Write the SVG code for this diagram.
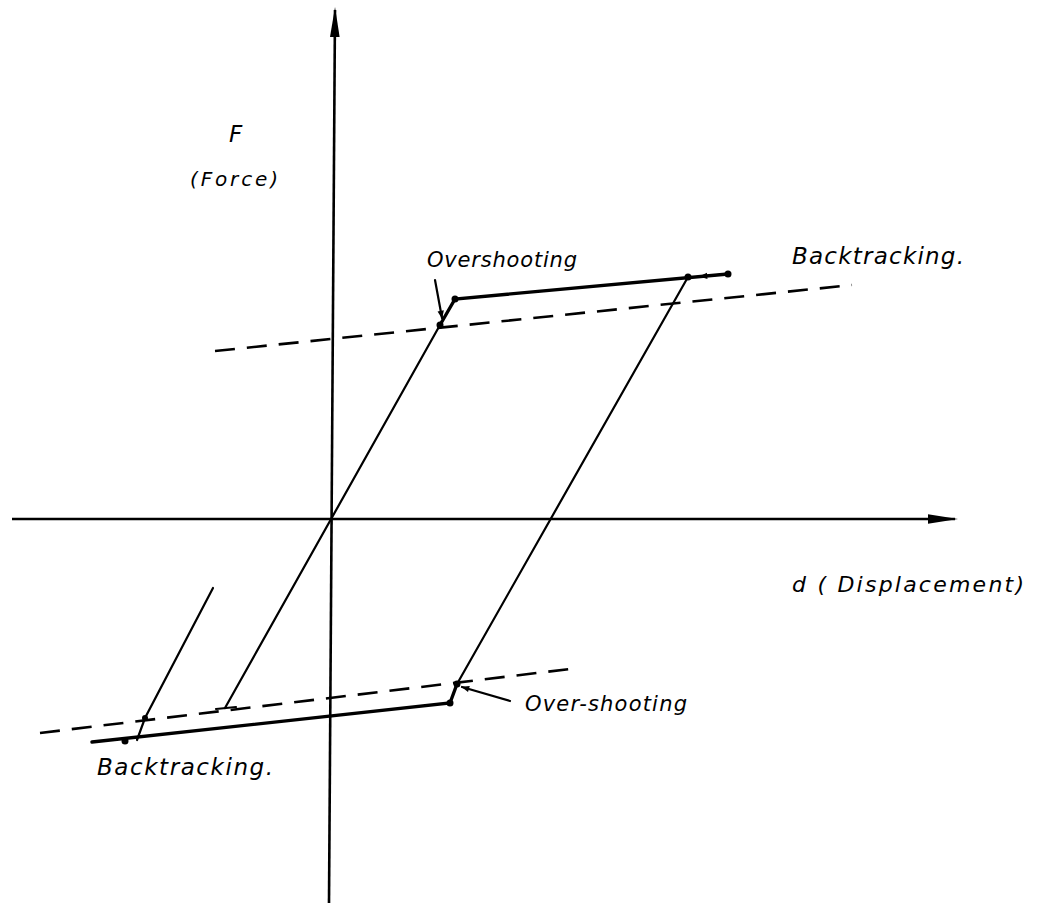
<svg xmlns="http://www.w3.org/2000/svg" width="1049" height="903" viewBox="0 0 1049 903">
<style>
.ax{stroke:#000;stroke-width:2.6;fill:none}
.ln{stroke:#000;stroke-width:2.2;fill:none;stroke-linecap:round}
.bold{stroke:#000;stroke-width:3.4;fill:none;stroke-linecap:round}
.dash{stroke:#000;stroke-width:2.6;fill:none;stroke-dasharray:20 12}
.t{font-family:"DejaVu Sans","Liberation Sans",sans-serif;font-style:italic;fill:#000}
</style>
<defs>
<marker id="ah" viewBox="0 0 10 10" refX="9" refY="5" markerWidth="9" markerHeight="8" orient="auto" markerUnits="userSpaceOnUse">
<path d="M0,1 L10,5 L0,9 z" fill="#000"/>
</marker>
<marker id="axh" viewBox="0 0 10 10" refX="9" refY="5" markerWidth="30" markerHeight="12" orient="auto" markerUnits="userSpaceOnUse" preserveAspectRatio="none">
<path d="M0,1 L10,5 L0,9 z" fill="#000"/>
</marker>
</defs>
<rect width="1049" height="903" fill="#fff"/>
<g id="axes">
<line class="ax" x1="329" y1="903" x2="335" y2="10" marker-end="url(#axh)"/>
<line class="ax" x1="12" y1="519" x2="955" y2="519" marker-end="url(#axh)"/>
</g>
<g id="connectors">
<line class="dash" x1="215" y1="351" x2="852" y2="285"/>
<line class="dash" x1="40" y1="733" x2="578" y2="668"/>
<polyline class="bold" points="440,325 455,299 728,274"/>
<line class="ln" x1="440" y1="325" x2="225" y2="708"/>
<line class="ln" x1="216" y1="709" x2="236" y2="707"/>
<line class="ln" x1="688" y1="277" x2="457" y2="684"/>
<polyline class="bold" points="457,684 450,703 92,742"/>
<polyline class="ln" points="213,588 145,718 137,740"/>
<line class="ln" x1="728" y1="274" x2="700" y2="276.5" marker-end="url(#ah)"/>
<line class="ln" x1="435" y1="280" x2="442" y2="318" marker-end="url(#ah)"/>
<line class="ln" x1="510" y1="701" x2="462" y2="687" marker-end="url(#ah)"/>
<g fill="#000">
<circle cx="455" cy="299" r="3.5"/>
<circle cx="440" cy="325" r="3.5"/>
<circle cx="688" cy="277" r="3.5"/>
<circle cx="728" cy="274" r="3.5"/>
<circle cx="457" cy="684" r="3.5"/>
<circle cx="450" cy="703" r="3.5"/>
<circle cx="125" cy="741" r="3.5"/>
<circle cx="145" cy="718" r="3"/>
</g>
</g>
<g id="labels">
<text class="t" x="229" y="142" style="font-size:23px">F</text>
<text class="t" x="190" y="186" style="font-size:20px" textLength="88" lengthAdjust="spacing">(Force)</text>
<text class="t" x="427" y="267" style="font-size:21px" textLength="150" lengthAdjust="spacing">Overshooting</text>
<text class="t" x="792" y="264" style="font-size:23px" textLength="172" lengthAdjust="spacing">Backtracking.</text>
<text class="t" x="792" y="592" style="font-size:22px" textLength="232" lengthAdjust="spacing">d ( Displacement)</text>
<text class="t" x="525" y="711" style="font-size:21px" textLength="162" lengthAdjust="spacing">Over-shooting</text>
<text class="t" x="97" y="775" style="font-size:23px" textLength="176" lengthAdjust="spacing">Backtracking.</text>
</g>
</svg>
